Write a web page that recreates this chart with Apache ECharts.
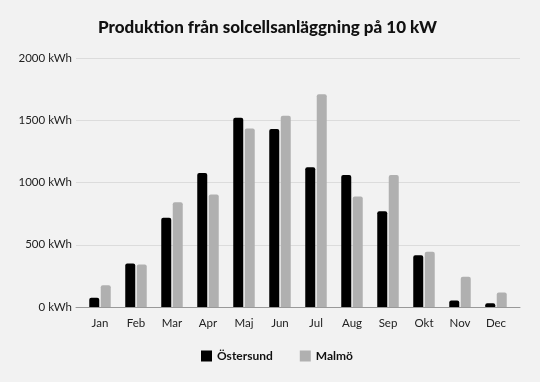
<!DOCTYPE html>
<html><head><meta charset="utf-8">
<script src="https://cdn.jsdelivr.net/npm/echarts@6/dist/echarts.min.js"></script>
<style>html,body{margin:0;padding:0;background:#f2f2f2}#c{width:540px;height:382px}</style>
</head><body><div id="c"></div>
<script>
const months = ['Jan','Feb','Mar','Apr','Maj','Jun','Jul','Aug','Sep','Okt','Nov','Dec'];
const ostersund = [74, 349, 716, 1077, 1521, 1430, 1122, 1061, 769, 416, 52, 30];
const malmo = [175, 341, 841, 903, 1433, 1537, 1708, 887, 1061, 443, 242, 116];
const yTicks = [0, 500, 1000, 1500, 2000];

const font = 'Lato, "DejaVu Sans", sans-serif';
const chart = echarts.init(document.getElementById('c'), null, {renderer:'canvas'});
chart.setOption({
  backgroundColor: '#f2f2f2',
  animation: false,
  title: {
    text: 'Produktion från solcellsanläggning på 10 kW',
    left: 93, top: 14,
    textStyle: {fontFamily: font, fontSize: 17, fontWeight: 900, color: '#111'}
  },
  legend: {
    bottom: 15, left: 196,
    itemWidth: 11, itemHeight: 11, itemGap: 27,
    icon: 'rect',
    textStyle: {fontFamily: font, fontSize: 12, fontWeight: 'bold', color: '#111'},
    data: ['Östersund', 'Malmö']
  },
  grid: [
    {left: 76, right: 20, top: 58, bottom: 75},
    {left: 82, right: 26, top: 58, bottom: 75}
  ],
  xAxis: [
    {type: 'category', gridIndex: 0, data: months,
     axisLine: {lineStyle: {color: '#999'}},
     axisTick: {show: false}, axisLabel: {show: false}},
    {type: 'category', gridIndex: 1, data: months,
     axisLine: {show: false}, axisTick: {show: false},
     axisLabel: {fontFamily: font, fontSize: 11.5, color: '#222', margin: 10}}
  ],
  yAxis: [
    {type: 'value', gridIndex: 0, min: yTicks[0], max: yTicks[yTicks.length-1], interval: 500,
     axisLabel: {fontFamily: font, fontSize: 11.5, color: '#222', formatter: v => v + ' kWh', margin: 4},
     splitLine: {lineStyle: {color: '#dcdcdc'}},
     axisLine: {show: false}, axisTick: {show: false}},
    {type: 'value', gridIndex: 1, min: yTicks[0], max: yTicks[yTicks.length-1], interval: 500,
     show: false, splitLine: {show: false}}
  ],
  series: [
    {name: 'Östersund', type: 'bar', xAxisIndex: 1, yAxisIndex: 1, data: ostersund, barWidth: 10, barGap: '15%',
     itemStyle: {color: '#000', borderRadius: [2,2,0,0]}},
    {name: 'Malmö', type: 'bar', xAxisIndex: 1, yAxisIndex: 1, data: malmo, barWidth: 10,
     itemStyle: {color: '#b0b0b0', borderRadius: [2,2,0,0]}}
  ]
});
</script></body></html>
